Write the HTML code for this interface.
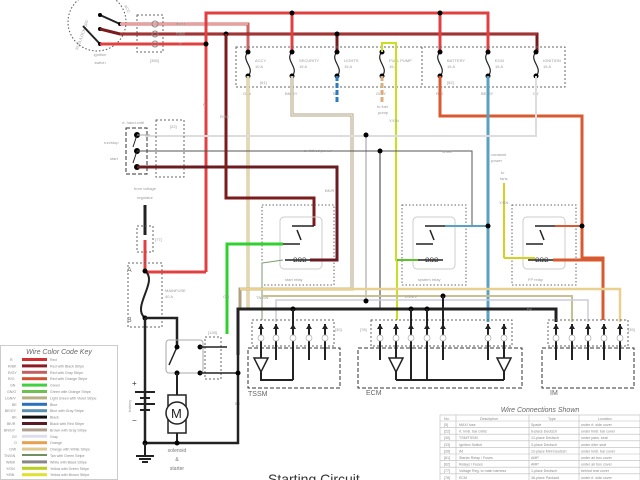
<!DOCTYPE html>
<html><head><meta charset="utf-8"><style>
html,body{margin:0;padding:0;background:#fff;width:640px;height:480px;overflow:hidden}
svg{display:block;font-family:"Liberation Sans",sans-serif}
.t{font-size:4px;fill:#999}
.d{fill:none;stroke:#666;stroke-width:1;stroke-dasharray:2,2}
</style></head><body>
<svg width="640" height="480" viewBox="0 0 640 480" xmlns="http://www.w3.org/2000/svg">
<defs><g id="pa"><polygon points="-3,3 0,-2 3,3" fill="#222"/><circle cx="0" cy="12" r="3" fill="#fff" stroke="#aaa" stroke-width="0.7"/></g></defs>
<!-- ignition switch -->
<circle cx="97" cy="22" r="29" fill="none" stroke="#555" stroke-dasharray="1.5,2"/>
<text x="78" y="50" class="t" font-size="7" transform="rotate(-70 78 50)" fill="#888">FUEL/LOCK/OFF</text>
<text x="124" y="6" class="t" font-size="6" fill="#888" transform="rotate(60 124 6)">ACC</text>
<line x1="100" y1="15" x2="120" y2="24" stroke="#222" stroke-width="2"/>
<line x1="100" y1="29" x2="120" y2="34" stroke="#222" stroke-width="2"/>
<line x1="83" y1="26" x2="100" y2="44" stroke="#222" stroke-width="2"/>
<circle cx="100" cy="15" r="2"/><circle cx="100" cy="29" r="2"/><circle cx="100" cy="44" r="2"/><circle cx="120" cy="24" r="2"/>
<text x="100" y="56" class="t" font-size="5" text-anchor="middle" fill="#777">ignition</text>
<text x="100" y="64" class="t" font-size="5" text-anchor="middle" fill="#777">switch</text>
<rect x="137" y="15" width="26" height="37" class="d"/>
<text x="150" y="62" class="t">[359]</text>
<!-- top wires -->
<polyline points="120,24 248,24 248,52" fill="none" stroke="#c66" stroke-width="3"/>
<line x1="120" y1="24" x2="248" y2="24" stroke="#fdd" stroke-width="1"/>
<polyline points="100,29 120,34 537,34 537,52" fill="none" stroke="#7a1c1c" stroke-width="3"/>
<line x1="120" y1="34" x2="537" y2="34" stroke="#d44" stroke-width="1"/>
<polyline points="100,44 206,44" fill="none" stroke="#e04040" stroke-width="3"/>
<polyline points="206,272 206,13 488,13 488,52" fill="none" stroke="#e04040" stroke-width="3"/>
<line x1="292" y1="13" x2="292" y2="52" stroke="#e04040" stroke-width="3"/>
<line x1="440" y1="13" x2="440" y2="52" stroke="#e04040" stroke-width="3"/>
<line x1="226" y1="34" x2="226" y2="52" stroke="#7a1c1c" stroke-width="3"/>
<line x1="337" y1="34" x2="337" y2="52" stroke="#7a1c1c" stroke-width="3"/>
<circle cx="206" cy="44" r="2.5"/><circle cx="226" cy="34" r="2.5"/><circle cx="292" cy="13" r="2.5"/><circle cx="337" cy="34" r="2.5"/><circle cx="440" cy="13" r="2.5"/>
<text x="176" y="25" class="t">R/GY</text><text x="176" y="35" class="t">R/BK</text><text x="179" y="45" class="t">R</text>
<g fill="none" stroke="#888"><circle cx="155" cy="24" r="3"/><circle cx="155" cy="34" r="3"/><circle cx="155" cy="44" r="3"/></g>
<!-- fuse box -->
<rect x="236" y="47" width="329" height="40" class="d"/>
<line x1="422" y1="47" x2="422" y2="87" class="d"/>
<g fill="none" stroke="#222" stroke-width="1.2">
<path d="M248,52 c-8,8 8,16 0,24"/><path d="M292,52 c-8,8 8,16 0,24"/><path d="M337,52 c-8,8 8,16 0,24"/><path d="M382,52 c-8,8 8,16 0,24"/><path d="M440,52 c-8,8 8,16 0,24"/><path d="M488,52 c-8,8 8,16 0,24"/><path d="M536,52 c-8,8 8,16 0,24"/></g>
<g><circle cx="248" cy="52" r="2.5"/><circle cx="248" cy="76" r="2.5"/><circle cx="292" cy="52" r="2.5"/><circle cx="292" cy="76" r="2.5"/><circle cx="337" cy="52" r="2.5"/><circle cx="337" cy="76" r="2.5"/><circle cx="382" cy="52" r="2.5"/><circle cx="382" cy="76" r="2.5"/><circle cx="440" cy="52" r="2.5"/><circle cx="440" cy="76" r="2.5"/><circle cx="488" cy="52" r="2.5"/><circle cx="488" cy="76" r="2.5"/><circle cx="536" cy="52" r="2.5"/><circle cx="536" cy="76" r="2.5"/></g>
<text x="255" y="62" class="t">ACCY</text><text x="255" y="68" class="t">10 A</text>
<text x="299" y="62" class="t">SECURITY</text><text x="299" y="68" class="t">15 A</text>
<text x="344" y="62" class="t">LIGHTS</text><text x="344" y="68" class="t">15 A</text>
<text x="389" y="62" class="t">FUEL PUMP</text><text x="389" y="68" class="t">15 A</text>
<text x="447" y="62" class="t">BATTERY</text><text x="447" y="68" class="t">15 A</text>
<text x="495" y="62" class="t">ECM</text><text x="495" y="68" class="t">15 A</text>
<text x="543" y="62" class="t">IGNITION</text><text x="543" y="68" class="t">15 A</text>
<text x="260" y="84" class="t">[61]</text><text x="447" y="84" class="t">[62]</text>
<text x="243" y="95" class="t">O/W</text><text x="285" y="95" class="t">BN/GY</text><text x="333" y="95" class="t">BE</text><text x="376" y="95" class="t">O/GY</text><text x="436" y="95" class="t">R/O</text><text x="481" y="95" class="t">BE/GY</text><text x="533" y="95" class="t">GY</text>
<text x="377" y="108" class="t">to fuel</text><text x="378" y="114" class="t">pump</text>
<!-- fuse outputs -->
<line x1="248" y1="76" x2="248" y2="310" stroke="#c9b98a" stroke-width="3"/><line x1="248" y1="76" x2="248" y2="310" stroke="#fff8d0" stroke-width="1"/>
<polyline points="292,76 292,115 352,115 352,289 240,289 240,309" fill="none" stroke="#b0a080" stroke-width="3"/>
<polyline points="292,76 292,115 352,115 352,289 240,289" fill="none" stroke="#fff" stroke-width="1"/>
<line x1="337" y1="76" x2="337" y2="102" stroke="#2a7bc0" stroke-width="3" stroke-dasharray="5,2"/>
<line x1="382" y1="76" x2="382" y2="102" stroke="#d8b080" stroke-width="3" stroke-dasharray="5,2"/>
<polyline points="382,52 382,43 396,43 396,260 397,260 397,320" fill="none" stroke="#c8e020" stroke-width="2"/>
<text x="389" y="122" class="t">Y/GN</text>
<polyline points="440,76 440,116 582,116 582,258 603,258 603,320" fill="none" stroke="#d85a30" stroke-width="3"/>
<line x1="488" y1="76" x2="488" y2="322" stroke="#5aa0c0" stroke-width="3"/>
<polyline points="536,76 536,136 145,136" fill="none" stroke="#ddd" stroke-width="2"/>
<line x1="366" y1="136" x2="366" y2="300" stroke="#ccc" stroke-width="2"/><circle cx="366" cy="135" r="2.5"/>
<text x="491" y="156" class="t">constant</text><text x="491" y="162" class="t">power</text>
<text x="501" y="174" class="t">to</text><text x="500" y="180" class="t">fans</text>
<line x1="504" y1="183" x2="504" y2="258" stroke="#d8d020" stroke-width="2"/><text x="499" y="204" class="t">Y/BN</text>
<!-- switched power -->
<polyline points="150,151 472,151 472,225" fill="none" stroke="#555" stroke-width="1"/>
<line x1="380" y1="151" x2="380" y2="310" stroke="#333" stroke-width="1"/><circle cx="380" cy="151" r="2.5"/>
<text x="304" y="152" class="t">switched power</text><text x="442" y="153" class="t">W/BK</text>
<!-- handlebar control -->
<rect x="126" y="128" width="21" height="46" fill="none" stroke="#333" stroke-dasharray="4,2"/>
<rect x="156" y="120" width="28" height="57" class="d"/>
<text x="122" y="124" class="t">rt. hand cntrl</text><text x="170" y="128" class="t">[22]</text>
<text x="104" y="144" class="t">run/stop</text><text x="110" y="160" class="t">start</text>
<circle cx="137" cy="135" r="3"/><circle cx="137" cy="151" r="3"/><circle cx="137" cy="167" r="3"/>
<line x1="137" y1="135" x2="133" y2="147" stroke="#222"/><line x1="137" y1="151" x2="133" y2="163" stroke="#222"/>
<line x1="137" y1="135" x2="150" y2="135" stroke="#aaa"/><line x1="137" y1="151" x2="150" y2="151" stroke="#555"/>
<polyline points="137,167 337,167 337,258" fill="none" stroke="#6a1c20" stroke-width="3"/>
<text x="325" y="192" class="t">BK/R</text>
<text x="145" y="190" class="t" font-size="5.5" text-anchor="middle" fill="#777">from voltage</text>
<text x="145" y="199" class="t" font-size="5.5" text-anchor="middle" fill="#777">regulator</text>
<line x1="145" y1="205" x2="145" y2="235" stroke="#222" stroke-width="3"/>
<rect x="137" y="226" width="16" height="26" class="d"/><text x="155" y="241" class="t">[77]</text>
<polyline points="145,240 145,272 206,272" fill="none" stroke="#e04040" stroke-width="3"/>
<!-- R/BK to start relay -->
<polyline points="226,34 226,198 314,198 314,226" fill="none" stroke="#7a1c1c" stroke-width="3"/>
<text x="220" y="118" class="t">R/BK</text><text x="203" y="106" class="t">R</text>
<!-- relays -->
<rect x="262" y="205" width="72" height="80" fill="none" stroke="#666" stroke-dasharray="1.5,2"/>
<rect x="402" y="205" width="64" height="80" fill="none" stroke="#666" stroke-dasharray="1.5,2"/>
<rect x="512" y="205" width="64" height="80" fill="none" stroke="#666" stroke-dasharray="1.5,2"/>
<g fill="none" stroke="#ccc"><rect x="280" y="217" width="42" height="52" rx="4"/><rect x="413" y="217" width="42" height="52" rx="4"/><rect x="523" y="217" width="42" height="52" rx="4"/></g>
<g stroke="#222" stroke-width="1.5">
<line x1="292" y1="226" x2="314" y2="226"/><line x1="297" y1="230" x2="301" y2="240"/><line x1="283" y1="244" x2="300" y2="244"/><line x1="285" y1="260" x2="310" y2="260"/>
<line x1="425" y1="226" x2="445" y2="226"/><line x1="430" y1="230" x2="434" y2="240"/><line x1="416" y1="244" x2="433" y2="244"/><line x1="418" y1="260" x2="443" y2="260"/>
<line x1="535" y1="226" x2="555" y2="226"/><line x1="540" y1="230" x2="544" y2="240"/><line x1="526" y1="244" x2="543" y2="244"/><line x1="528" y1="260" x2="553" y2="260"/></g>
<g font-size="6" fill="#333"><text x="293" y="262">ΩΩΩ</text><text x="425" y="262">ΩΩΩ</text><text x="535" y="262">ΩΩΩ</text></g>
<text x="285" y="281" class="t">start relay</text><text x="418" y="281" class="t">system relay</text><text x="528" y="281" class="t">FP relay</text>
<polyline points="227,334 227,244 283,244" fill="none" stroke="#30d030" stroke-width="3"/>
<text x="223" y="298" class="t">GN</text>
<polyline points="262,320 262,263 283,260" fill="none" stroke="#7a9a70" stroke-width="1"/>
<text x="256" y="299" class="t">TN/GN</text>
<polyline points="337,258 337,260 310,260" fill="none" stroke="#6a1c20" stroke-width="3"/>
<polyline points="397,260 418,260" fill="none" stroke="#60c030" stroke-width="2"/>
<polyline points="445,226 488,226" fill="none" stroke="#5aa0c0" stroke-width="2"/><circle cx="488" cy="226" r="2.5"/>
<polyline points="555,226 582,226" fill="none" stroke="#d85a30" stroke-width="2"/><circle cx="582" cy="226" r="2.5"/>
<polyline points="553,260 603,260" fill="none" stroke="#d85a30" stroke-width="3"/>
<polyline points="504,258 535,258" stroke="#d8d020" fill="none" stroke-width="2"/>
<!-- horizontal buses -->
<polyline points="240,289 620,289 620,322" fill="none" stroke="#e8d090" stroke-width="2.5"/>
<polyline points="262,296 572,296 572,322" fill="none" stroke="#c8c090" stroke-width="2"/><text x="405" y="298" class="t">LGN/V</text>
<polyline points="276,322 276,300 588,300 588,322" fill="none" stroke="#ccd" stroke-width="1.5"/>
<circle cx="366" cy="301" r="2.5"/><circle cx="443" cy="296" r="2.5"/>
<polyline points="238,355 238,309 556,309 556,322" fill="none" stroke="#222" stroke-width="3"/>
<text x="527" y="311" class="t">BK</text><text x="235" y="405" class="t">BK</text>
<circle cx="293" cy="309" r="2.5"/><circle cx="411" cy="309" r="2.5"/><circle cx="427" cy="309" r="2.5"/>
<!-- connectors & modules -->
<rect x="252" y="320" width="82" height="26" class="d"/><rect x="371" y="320" width="141" height="26" class="d"/><rect x="548" y="320" width="80" height="26" class="d"/>
<text x="335" y="331" class="t">[30]</text><text x="360" y="331" class="t">[78]</text><text x="628" y="331" class="t">[39]</text>
<rect x="248" y="348" width="92" height="40" fill="none" stroke="#333" stroke-dasharray="4,2"/>
<rect x="358" y="348" width="164" height="40" fill="none" stroke="#333" stroke-dasharray="4,2"/>
<rect x="542" y="348" width="92" height="40" fill="none" stroke="#333" stroke-dasharray="4,2"/>
<text x="248" y="396" font-size="7" fill="#666">TSSM</text><text x="366" y="395" font-size="7" fill="#666">ECM</text><text x="550" y="395" font-size="7" fill="#666">IM</text>
<g stroke="#222" stroke-width="2">
<line x1="261" y1="324" x2="261" y2="360"/><line x1="276" y1="324" x2="276" y2="360"/><line x1="293" y1="309" x2="293" y2="380"/><line x1="309" y1="324" x2="309" y2="360"/><line x1="325" y1="324" x2="325" y2="360"/>
<line x1="380" y1="324" x2="380" y2="360"/><line x1="396" y1="324" x2="396" y2="380"/><line x1="411" y1="309" x2="411" y2="380"/><line x1="427" y1="309" x2="427" y2="380"/><line x1="443" y1="296" x2="443" y2="360"/><line x1="488" y1="324" x2="488" y2="360"/><line x1="504" y1="324" x2="504" y2="380"/>
<line x1="556" y1="324" x2="556" y2="360"/><line x1="572" y1="324" x2="572" y2="360"/><line x1="588" y1="324" x2="588" y2="360"/><line x1="604" y1="324" x2="604" y2="360"/><line x1="620" y1="324" x2="620" y2="360"/>
<polyline points="261,372 261,380 293,380" fill="none"/><polyline points="396,380 504,380" fill="none"/></g>
<g>
<use href="#pa" x="261" y="326"/><use href="#pa" x="276" y="326"/><use href="#pa" x="293" y="326"/><use href="#pa" x="309" y="326"/><use href="#pa" x="325" y="326"/>
<use href="#pa" x="380" y="326"/><use href="#pa" x="396" y="326"/><use href="#pa" x="411" y="326"/><use href="#pa" x="427" y="326"/><use href="#pa" x="443" y="326"/><use href="#pa" x="488" y="326"/><use href="#pa" x="504" y="326"/>
<use href="#pa" x="556" y="326"/><use href="#pa" x="572" y="326"/><use href="#pa" x="588" y="326"/><use href="#pa" x="604" y="326"/><use href="#pa" x="620" y="326"/>
</g>
<g fill="#fff" stroke="#222" stroke-width="1.5"><polygon points="254,358 268,358 261,372"/><polygon points="389,358 403,358 396,372"/><polygon points="497,358 511,358 504,372"/></g>
<!-- main fuse / battery -->
<rect x="128" y="263" width="34" height="64" class="d"/>
<text x="127" y="272" font-size="7" fill="#777">A</text><text x="127" y="322" font-size="7" fill="#777">B</text>
<text x="165" y="292" class="t">MAINFUSE</text><text x="165" y="298" class="t">40 A</text>
<path d="M145,271 c14,10 -14,36 0,47" fill="none" stroke="#222" stroke-width="2"/>
<circle cx="145" cy="271" r="2.5"/><circle cx="145" cy="318" r="2.5"/>
<polyline points="145,318 177,318 177,345" fill="none" stroke="#222" stroke-width="2.5"/>
<polyline points="145,318 145,443 238,443 238,355" fill="none" stroke="#222" stroke-width="2.5"/>
<rect x="166" y="340" width="37" height="33" rx="3" fill="none" stroke="#aaa"/>
<line x1="177" y1="347" x2="169" y2="365" stroke="#222" stroke-width="1.5"/>
<circle cx="177" cy="347" r="2.5"/><circle cx="177" cy="373" r="2.5"/><circle cx="200" cy="347" r="2.5"/><circle cx="200" cy="373" r="2.5"/>
<rect x="205" y="337" width="16" height="42" class="d"/><text x="208" y="334" class="t">[128]</text>
<line x1="200" y1="347" x2="227" y2="347" stroke="#222" stroke-width="1.5"/><line x1="200" y1="373" x2="238" y2="373" stroke="#222" stroke-width="1.5"/>
<circle cx="238" cy="373" r="2.5"/>
<line x1="177" y1="373" x2="177" y2="395" stroke="#222" stroke-width="2"/>
<rect x="168" y="395" width="18" height="38" fill="none" stroke="#222" stroke-width="1.5"/>
<circle cx="177" cy="413" r="11" fill="#fff" stroke="#222" stroke-width="1.5"/><text x="171" y="418" font-size="13" fill="#222">M</text>
<line x1="177" y1="433" x2="177" y2="443" stroke="#222" stroke-width="2"/><circle cx="177" cy="443" r="2.5"/><circle cx="145" cy="443" r="2.5"/>
<g stroke="#222" stroke-width="2"><line x1="135" y1="392" x2="155" y2="392"/><line x1="140" y1="398" x2="150" y2="398"/><line x1="135" y1="404" x2="155" y2="404"/><line x1="140" y1="410" x2="150" y2="410"/>
<line x1="145" y1="443" x2="145" y2="456"/><line x1="136" y1="456" x2="154" y2="456"/><line x1="139" y1="459" x2="151" y2="459"/><line x1="142" y1="462" x2="148" y2="462"/></g>
<text x="132" y="386" font-size="8" fill="#333">+</text><text x="132" y="423" font-size="8" fill="#333">−</text>
<text x="131" y="412" class="t" font-size="5" transform="rotate(-90 131 412)">battery</text>
<text x="177" y="452" font-size="5" fill="#777" text-anchor="middle">solenoid</text><text x="177" y="461" font-size="5" fill="#777" text-anchor="middle">&amp;</text><text x="177" y="470" font-size="5" fill="#777" text-anchor="middle">starter</text>
<text x="268" y="484" font-size="14" fill="#333">Starting Circuit</text>
<!-- key -->
<rect x="0.5" y="345.5" width="117" height="134" fill="#fff" stroke="#ccc"/>
<text x="59" y="354" font-size="7" font-style="italic" fill="#666" text-anchor="middle">Wire Color Code Key</text>
<g font-size="3.6" fill="#888">
<rect x="22" y="358" width="25" height="3" fill="#d03030"/><text x="50" y="361">Red</text><text x="10" y="361">R</text>
<rect x="22" y="364.4" width="25" height="3" fill="#8a1c24"/><text x="50" y="367.4">Red with Black Stripe</text><text x="8" y="367.4">R/BK</text>
<rect x="22" y="370.8" width="25" height="3" fill="#c06060"/><text x="50" y="373.8">Red with Gray Stripe</text><text x="8" y="373.8">R/GY</text>
<rect x="22" y="377.2" width="25" height="3" fill="#d05030"/><text x="50" y="380.2">Red with Orange Stripe</text><text x="8" y="380.2">R/O</text>
<rect x="22" y="383.6" width="25" height="3" fill="#40d040"/><text x="50" y="386.6">Green</text><text x="10" y="386.6">GN</text>
<rect x="22" y="390" width="25" height="3" fill="#70c050"/><text x="50" y="393">Green with Orange Stripe</text><text x="7" y="393">GN/O</text>
<rect x="22" y="396.4" width="25" height="3" fill="#b8b080"/><text x="50" y="399.4">Light Green with Violet Stripe</text><text x="5" y="399.4">LGN/V</text>
<rect x="22" y="402.8" width="25" height="3" fill="#2a70c0"/><text x="50" y="405.8">Blue</text><text x="12" y="405.8">BE</text>
<rect x="22" y="409.2" width="25" height="3" fill="#5a90b0"/><text x="50" y="412.2">Blue with Gray Stripe</text><text x="5" y="412.2">BE/GY</text>
<rect x="22" y="415.6" width="25" height="3" fill="#111"/><text x="50" y="418.6">Black</text><text x="12" y="418.6">BK</text>
<rect x="22" y="422" width="25" height="3" fill="#5a1c24"/><text x="50" y="425">Black with Red Stripe</text><text x="7" y="425">BK/R</text>
<rect x="22" y="428.4" width="25" height="3" fill="#b0a090"/><text x="50" y="431.4">Brown with Gray Stripe</text><text x="4" y="431.4">BN/GY</text>
<rect x="22" y="434.8" width="25" height="3" fill="#dde"/><text x="50" y="437.8">Gray</text><text x="12" y="437.8">GY</text>
<rect x="22" y="441.2" width="25" height="3" fill="#e8a050"/><text x="50" y="444.2">Orange</text><text x="14" y="444.2">O</text>
<rect x="22" y="447.6" width="25" height="3" fill="#e0c890"/><text x="50" y="450.6">Orange with White Stripe</text><text x="9" y="450.6">O/W</text>
<rect x="22" y="454" width="25" height="2" fill="#709060"/><text x="50" y="457">Tan with Green Stripe</text><text x="4" y="457">TN/GN</text>
<rect x="22" y="460.4" width="25" height="3" fill="#888"/><text x="50" y="463.4">White with Black Stripe</text><text x="6" y="463.4">W/BK</text>
<rect x="22" y="466.8" width="25" height="3" fill="#b8d020"/><text x="50" y="469.8">Yellow with Green Stripe</text><text x="6" y="469.8">Y/GN</text>
<rect x="22" y="473.2" width="25" height="3" fill="#e0e030"/><text x="50" y="476.2">Yellow with Brown Stripe</text><text x="6" y="476.2">Y/BN</text>
</g>
<!-- table -->
<text x="540" y="412" font-size="7" font-style="italic" fill="#666" text-anchor="middle">Wire Connections Shown</text>
<g stroke="#bbb" stroke-width="0.6" fill="none">
<rect x="440" y="415" width="200" height="66"/>
<line x1="456" y1="415" x2="456" y2="481"/><line x1="529" y1="415" x2="529" y2="481"/><line x1="579" y1="415" x2="579" y2="481"/>
<line x1="440" y1="421" x2="640" y2="421"/><line x1="440" y1="427.6" x2="640" y2="427.6"/><line x1="440" y1="434.2" x2="640" y2="434.2"/><line x1="440" y1="440.8" x2="640" y2="440.8"/><line x1="440" y1="447.4" x2="640" y2="447.4"/><line x1="440" y1="454" x2="640" y2="454"/><line x1="440" y1="460.6" x2="640" y2="460.6"/><line x1="440" y1="467.2" x2="640" y2="467.2"/><line x1="440" y1="473.8" x2="640" y2="473.8"/></g>
<g font-size="3.6" fill="#888">
<text x="444" y="420">No.</text><text x="480" y="420">Description</text><text x="548" y="420">Type</text><text x="598" y="420">Location</text>
<text x="444" y="426">[5]</text><text x="459" y="426">MAXI fuse</text><text x="531" y="426">Spade</text><text x="581" y="426">under rt. side cover</text>
<text x="444" y="432.6">[22]</text><text x="459" y="432.6">rt. hndl. bar cntrls</text><text x="531" y="432.6">6-place Deutsch</text><text x="581" y="432.6">under hndl. bar cover</text>
<text x="444" y="439.2">[30]</text><text x="459" y="439.2">TSM/TSSM</text><text x="531" y="439.2">12-place Deutsch</text><text x="581" y="439.2">under pass. seat</text>
<text x="444" y="445.8">[33]</text><text x="459" y="445.8">Ignition Switch</text><text x="531" y="445.8">3-place Deutsch</text><text x="581" y="445.8">under rider seat</text>
<text x="444" y="452.4">[39]</text><text x="459" y="452.4">IM</text><text x="531" y="452.4">12-place Mini Deutsch</text><text x="581" y="452.4">under hndl. bar cover</text>
<text x="444" y="459">[61]</text><text x="459" y="459">Starter Relay / Fuses</text><text x="531" y="459">AMP</text><text x="581" y="459">under air box cover</text>
<text x="444" y="465.6">[62]</text><text x="459" y="465.6">Relays / Fuses</text><text x="531" y="465.6">AMP</text><text x="581" y="465.6">under air box cover</text>
<text x="444" y="472.2">[77]</text><text x="459" y="472.2">Voltage Reg. to main harness</text><text x="531" y="472.2">1-place Deutsch</text><text x="581" y="472.2">behind rear cover</text>
<text x="444" y="478.8">[78]</text><text x="459" y="478.8">ECM</text><text x="531" y="478.8">36-place Packard</text><text x="581" y="478.8">under rt. side cover</text>
</g>
</svg>
</body></html>
